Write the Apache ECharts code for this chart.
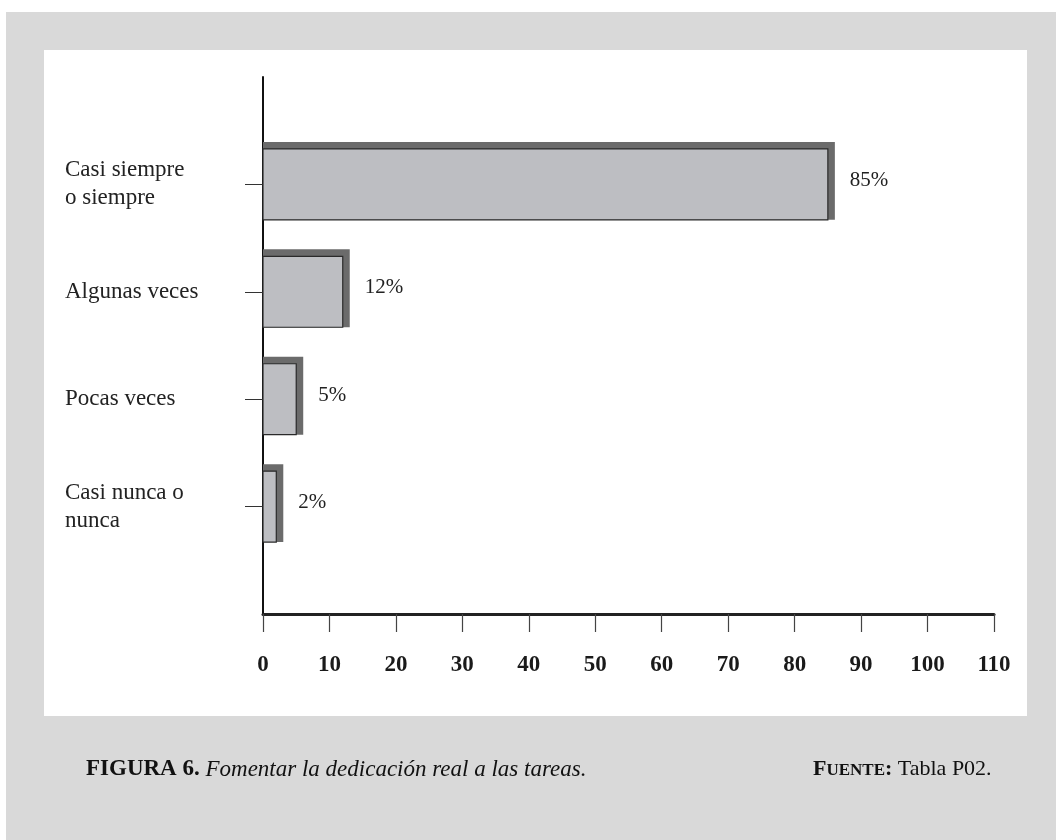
<!DOCTYPE html>
<html>
<head>
<meta charset="utf-8">
<script src="https://cdn.jsdelivr.net/npm/echarts@6/dist/echarts.min.js"></script>
<style>
  html, body { margin: 0; padding: 0; background: #ffffff; overflow: hidden; }
  #frame { position: absolute; left: 6px; top: 12px; right: 0; bottom: 0; background: #d9d9d9; }
  #panel { position: absolute; left: 44px; top: 50px; width: 983px; height: 666px; background: #ffffff; }
  #chart { position: absolute; left: 0; top: 0; width: 1056px; height: 840px; }
</style>
</head>
<body>
<div id="frame"></div>
<div id="panel"></div>
<div id="chart"></div>
<script>
// Answer categories, top to bottom
const categories = ['Casi siempre\no siempre', 'Algunas veces', 'Pocas veces', 'Casi nunca o\nnunca'];
// Share of answers per category (%)
const percentages = [85, 12, 5, 2];
// Horizontal axis ticks
const xTicks = [0, 10, 20, 30, 40, 50, 60, 70, 80, 90, 100, 110];

const SERIF = "'Liberation Serif', 'Times New Roman', serif";

// Empty slots above and below keep the bars away from the axis ends
const ySlots = [''].concat(categories, ['']);
const barData = percentages.map((v, i) => [v, i + 1]);

// Flat bar with a dark offset block behind it, plus its value label
function renderBar(params, api) {
  const v = api.value(0);
  const slot = api.value(1);
  const base = api.coord([0, slot]);
  const tip = api.coord([v, slot]);
  const h = api.size([0, 1])[1] * 0.66;
  const top = base[1] - h / 2;
  const depth = 7;
  const w = tip[0] - base[0];
  return {
    type: 'group',
    children: [
      { type: 'rect', shape: { x: base[0], y: top - depth, width: w + depth, height: h + depth },
        style: { fill: '#6b6b6b' } },
      { type: 'rect', shape: { x: base[0], y: top, width: w, height: h },
        style: { fill: '#bdbec2', stroke: '#2a2a2a', lineWidth: 1.2 } },
      { type: 'text',
        style: { text: v + '%', x: tip[0] + depth + 15, y: base[1] - 4,
                 verticalAlign: 'middle', align: 'left',
                 fill: '#222', fontSize: 21, fontFamily: SERIF } }
    ]
  };
}

const chart = echarts.init(document.getElementById('chart'), null, { renderer: 'canvas' });

chart.setOption({
  backgroundColor: 'transparent',
  animation: false,
  grid: { left: 263, right: 62, top: 77, bottom: 226, containLabel: false },
  xAxis: {
    type: 'value',
    min: xTicks[0],
    max: xTicks[xTicks.length - 1],
    interval: xTicks[1] - xTicks[0],
    axisLine: { show: true, lineStyle: { color: '#222', width: 3 } },
    axisTick: { show: true, length: 18, lineStyle: { color: '#444', width: 1.2 } },
    splitLine: { show: false },
    axisLabel: {
      margin: 40,
      verticalAlign: 'top',
      color: '#1a1a1a',
      fontFamily: SERIF,
      fontWeight: 'bold',
      fontSize: 23
    }
  },
  yAxis: {
    type: 'category',
    data: ySlots,
    inverse: true,
    boundaryGap: false,
    axisLine: { show: true, lineStyle: { color: '#111', width: 2 } },
    axisTick: {
      show: true, length: 18, alignWithLabel: true,
      interval: (i, val) => val !== '',
      lineStyle: { color: '#333', width: 1 }
    },
    axisLabel: {
      margin: 18,
      interval: (i, val) => val !== '',
      formatter: (val) => val.split('\n').map(s => '{t|' + s + '}').join('\n'),
      rich: {
        t: { width: 180, align: 'left', fontFamily: SERIF, fontSize: 23, lineHeight: 28, color: '#222' }
      }
    }
  },
  series: [{
    type: 'custom',
    renderItem: renderBar,
    encode: { x: 0, y: 1 },
    data: barData,
    z: 1
  }],
  graphic: [
    {
      type: 'text',
      x: 86, y: 768,
      style: {
        text: '{b|FIGURA 6. }{i|Fomentar la dedicación real a las tareas.}',
        verticalAlign: 'middle',
        rich: {
          b: { fontFamily: SERIF, fontWeight: 'bold', fontSize: 23, fill: '#111', verticalAlign: 'bottom', lineHeight: 26 },
          i: { fontFamily: SERIF, fontStyle: 'italic', fontSize: 23, fill: '#111', verticalAlign: 'bottom', lineHeight: 26 }
        }
      }
    },
    {
      type: 'text',
      x: 813, y: 768,
      style: {
        text: '{c|F}{s|UENTE}{c|: }{n|Tabla P02.}',
        verticalAlign: 'middle',
        rich: {
          c: { fontFamily: SERIF, fontWeight: 'bold', fontSize: 22, fill: '#111', verticalAlign: 'bottom', lineHeight: 25 },
          s: { fontFamily: SERIF, fontWeight: 'bold', fontSize: 17, fill: '#111', verticalAlign: 'bottom', lineHeight: 20, padding: [0, 0, 1, 0] },
          n: { fontFamily: SERIF, fontSize: 22, fill: '#111', verticalAlign: 'bottom', lineHeight: 25 }
        }
      }
    }
  ]
});
</script>
</body>
</html>
